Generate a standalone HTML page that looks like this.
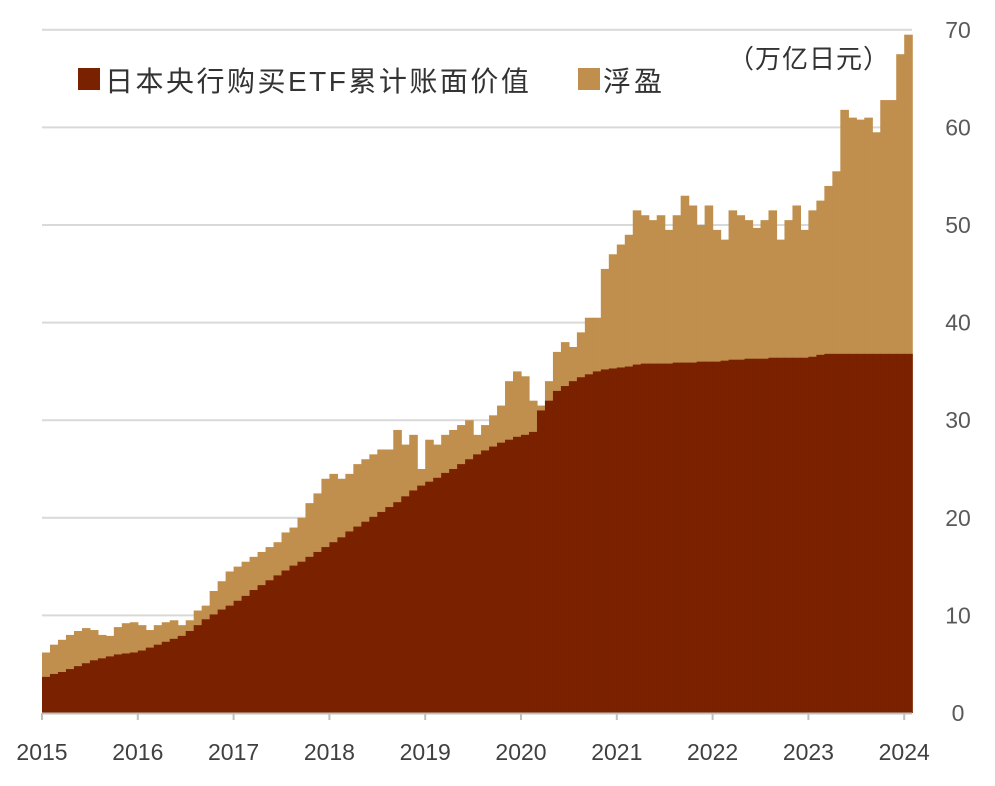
<!DOCTYPE html>
<html><head><meta charset="utf-8"><style>
body{margin:0;background:#fff;}
svg text{font-family:"Liberation Sans","Noto Sans CJK SC",sans-serif;}
</style></head><body>
<svg id="chart" width="995" height="781" viewBox="0 0 995 781" xmlns="http://www.w3.org/2000/svg">
<g id="grid"></g>
<g id="bars"></g>
<g id="axes"></g>
<rect x="78" y="68" width="22" height="22" fill="#7a2100"/>
<text x="105" y="91" font-size="28" letter-spacing="2.5" fill="#333">日本央行购买ETF累计账面价值</text>
<rect x="578" y="68" width="22" height="22" fill="#c08f4d"/>
<text x="603" y="91" font-size="28" letter-spacing="3" fill="#333">浮盈</text>
<text x="728" y="68" font-size="26" letter-spacing="1" fill="#333">（万亿日元）</text>
</svg>
<script>
const years=['2015','2016','2017','2018','2019','2020','2021','2022','2023','2024'];
const yTicks=[0,10,20,30,40,50,60,70];
const bookValue=[3.7,4.0,4.2,4.5,4.8,5.1,5.4,5.6,5.8,6.0,6.1,6.2,
6.4,6.7,7.0,7.3,7.6,7.9,8.4,9.0,9.6,10.1,10.6,11.0,
11.5,12.0,12.6,13.1,13.6,14.1,14.6,15.1,15.5,16.0,16.5,17.0,
17.5,18.0,18.6,19.1,19.6,20.1,20.6,21.1,21.6,22.2,22.8,23.3,
23.7,24.1,24.6,25.0,25.5,26.0,26.5,26.9,27.3,27.7,28.0,28.3,
28.5,28.8,31.0,32.0,33.0,33.5,34.0,34.4,34.7,35.0,35.2,35.3,
35.4,35.5,35.7,35.8,35.8,35.8,35.8,35.9,35.9,35.9,36.0,36.0,
36.0,36.1,36.2,36.2,36.3,36.3,36.3,36.4,36.4,36.4,36.4,36.4,
36.5,36.7,36.8,36.8,36.8,36.8,36.8,36.8,36.8,36.8,36.8,36.8,
36.8];
const totalValue=[6.2,7.0,7.5,8.0,8.4,8.7,8.5,8.0,7.9,8.8,9.2,9.3,
9.0,8.5,9.0,9.3,9.5,9.0,9.5,10.5,11.0,12.5,13.5,14.5,
15.0,15.5,16.0,16.5,17.0,17.5,18.5,19.0,20.0,21.5,22.5,24.0,
24.5,24.0,24.5,25.5,26.0,26.5,27.0,27.0,29.0,27.5,28.5,25.0,
28.0,27.5,28.5,29.0,29.5,30.0,28.5,29.5,30.5,31.5,34.0,35.0,
34.5,32.0,31.5,34.0,37.0,38.0,37.5,39.0,40.5,40.5,45.5,47.0,
48.0,49.0,51.5,51.0,50.5,51.0,49.5,51.0,53.0,52.0,50.0,52.0,
49.5,48.5,51.5,51.0,50.5,49.7,50.5,51.5,48.5,50.5,52.0,49.5,
51.5,52.5,54.0,55.5,61.8,61.0,60.8,61.0,59.5,62.8,62.8,67.5,
69.5];
const NS='http://www.w3.org/2000/svg';
const x0=42,yearW=95.8,mW=yearW/12,yBase=713,unit=9.76;
const xS=i=>x0+i*mW;
const yS=v=>yBase-v*unit;
function mk(tag,attrs,parent){const e=document.createElementNS(NS,tag);for(const k in attrs)e.setAttribute(k,attrs[k]);parent.appendChild(e);return e;}
const grid=document.getElementById('grid'),bars=document.getElementById('bars'),axes=document.getElementById('axes');
yTicks.forEach(t=>{
 if(t>0){const l=mk('line',{x1:42,x2:912,y1:yS(t),y2:yS(t),stroke:'#d9d9d9','stroke-width':2},grid);
 
 }
 const tx=mk('text',{x:958,y:yS(t)+8,'font-size':23,fill:'#595959','text-anchor':'middle'},axes);
 tx.textContent=t;
 
 
});
totalValue.forEach((v,i)=>{
 const r=mk('rect',{x:xS(i),y:yS(v),width:mW+0.6,height:v*unit,fill:'#c08f4d'},bars);
 
 
});
bookValue.forEach((v,i)=>{
 const r=mk('rect',{x:xS(i),y:yS(v),width:mW+0.6,height:v*unit,fill:'#7a2100'},bars);
 
 
});
const ax=mk('line',{x1:42,x2:912,y1:713.5,y2:713.5,stroke:'#bfbfbf','stroke-width':2},axes);


years.forEach((y,i)=>{
 const x=x0+i*yearW;
 const tk=mk('line',{x1:x,x2:x,y1:713,y2:720,stroke:'#bfbfbf','stroke-width':2},axes);
 
 
 const t=mk('text',{x:x,y:760,'font-size':23,fill:'#404040','text-anchor':'middle'},axes);
 t.textContent=y;
 
 
});
</script>
</body></html>
